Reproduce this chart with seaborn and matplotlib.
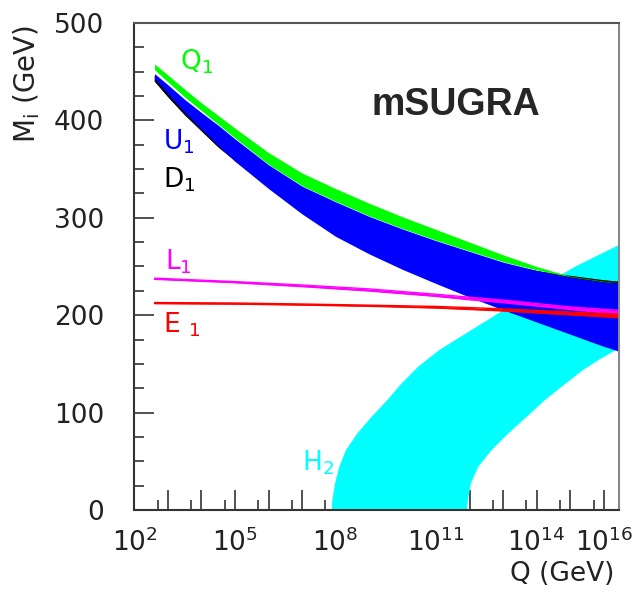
import numpy as np
import pandas as pd
import seaborn as sns
from matplotlib import pyplot as plt
from matplotlib.ticker import FixedLocator, FuncFormatter, MultipleLocator

# log10(Q/GeV) grid for the squark bands
logq = np.array([2.6, 3, 3.5, 4, 4.5, 5, 6, 7, 8, 9, 10, 11, 12, 13, 14, 15, 16, 16.46])

q1_hi = [458, 446.5, 432, 418, 405, 392, 367, 346, 330, 315, 301, 288, 275, 262, 250, 240, 235, 233.5]
q1_lo = [452, 439.5, 424, 410, 396, 382, 355, 333, 317, 302, 289, 277, 266, 255, 246.5, 239.5, 234.5, 233.3]
u1_hi = [448, 436.5, 421.5, 408, 395, 381, 354.5, 332.5, 316.5, 301.5, 288.5, 276.5, 265.5, 254.5, 246, 239, 234, 233]
u1_lo = [443, 427, 408, 391, 374, 358, 330, 304, 281, 263, 247, 232.5, 218.5, 205.5, 193, 180.5, 168, 163]
d1_hi = [446, 434.5, 419.5, 406, 393, 379, 352.5, 330.5, 314.5, 299.5, 286.5, 274.5, 263.5, 252.5, 245.5, 240.5, 236, 234.5]
d1_lo = [440.5, 424.5, 406, 389.5, 373, 359, 332, 306, 283, 265, 249, 234.5, 220.5, 207.5, 195, 182.5, 170, 165]

# sleptons
logq_l = np.array([2.6, 5, 7, 9, 11, 12, 13, 14, 15, 16.46])
l1_hi = [238, 234.5, 231, 227, 221.5, 218.5, 215.5, 212, 208.5, 205]
l1_lo = [237, 233.5, 229.5, 225, 219.5, 216, 213, 209.5, 206, 201]
e1_hi = [213, 212.5, 211.5, 210.3, 209, 207.8, 206.5, 205, 203.3, 201]
e1_lo = [212, 211.5, 210.5, 209.3, 207.5, 206, 204.5, 202.5, 200.5, 197.5]

# Higgs H2 band: left (upper) edge and right (lower) edge
h2_left_q = [7.886, 7.905, 7.985, 8.114, 8.313, 8.652, 9.08, 9.547, 9.975, 10.47,
             11.1, 11.9, 12.7, 13.5, 14.3, 15.15, 16.1, 16.46]
h2_left_m = [0, 10.3, 27.4, 44.5, 61.6, 78.7, 95.8, 112.9, 130, 147.2,
             164.3, 181.4, 198.5, 215.6, 232.7, 249.8, 266, 272]
h2_right_q = [11.92, 11.95, 12.04, 12.26, 12.66, 13.16, 13.71, 14.25, 14.8, 15.4, 15.9, 16.46]
h2_right_m = [0, 10.3, 27.4, 44.5, 61.6, 78.7, 95.8, 112.9, 128, 144, 155, 166]

xticks_shown = [2, 5, 8, 11, 14, 16]

sns.set_style('white')
plt.rcParams['font.family'] = ['DejaVu Sans']
plt.rcParams['mathtext.fontset'] = 'dejavusans'

fig = plt.figure(figsize=(6.41, 5.93), dpi=100)
ax = fig.add_axes([0.2098, 0.14, 0.7559, 0.8212])

Q = 10 ** logq
Ql = 10 ** logq_l

h2_x = 10 ** np.array(h2_left_q + h2_right_q[::-1])
h2_y = h2_left_m + h2_right_m[::-1]
ax.fill(h2_x, h2_y, color='#00ffff', lw=0)

ax.fill_between(Q, d1_lo, d1_hi, color='black', lw=0.6)
ax.fill_between(Q, u1_lo, u1_hi, color='#0000ff', lw=0)
ax.fill_between(Q, q1_lo, q1_hi, color='#00ff00', lw=0)

ax.fill_between(Ql, l1_lo, l1_hi, color='#ff00ff', lw=0)
sns.lineplot(x=Ql, y=l1_lo, color='#ff00ff', lw=1.2, ax=ax)
sns.lineplot(x=Ql, y=l1_hi, color='#ff00ff', lw=1.0, ax=ax)
ax.fill_between(Ql, e1_lo, e1_hi, color='#ff0000', lw=0)
sns.lineplot(x=Ql, y=e1_lo, color='#ff0000', lw=1.2, ax=ax)
sns.lineplot(x=Ql, y=e1_hi, color='#ff0000', lw=1.0, ax=ax)

ax.set_xscale('log')
ax.set_xlim(1e2, 10 ** 16.46)
ax.set_ylim(0, 500)

ax.xaxis.set_major_locator(FixedLocator([10.0 ** k for k in range(2, 17)]))
ax.xaxis.set_minor_locator(FixedLocator([5 * 10.0 ** k for k in range(2, 16)]))
ax.xaxis.set_major_formatter(FuncFormatter(
    lambda v, p: f'$10^{{{round(np.log10(v))}}}$' if round(np.log10(v)) in xticks_shown else ''))
ax.xaxis.set_minor_formatter(FuncFormatter(lambda v, p: ''))
ax.yaxis.set_major_locator(MultipleLocator(100))
ax.yaxis.set_minor_locator(MultipleLocator(25))

ax.tick_params(which='both', direction='in', top=False, right=False,
               bottom=True, left=True, color='#222222', width=1.1,
               labelcolor='#222222', labelsize=19)
ax.tick_params(which='major', length=14.5)
ax.tick_params(which='minor', length=7.5)
ax.tick_params(axis='y', pad=22)
ax.tick_params(axis='x', pad=13)

for side, col in [('left', '#333333'), ('bottom', '#333333'), ('top', '#555555'), ('right', '#888888')]:
    ax.spines[side].set_color(col)
    ax.spines[side].set_linewidth(1.5)

ax.set_ylabel('M$_{\\rm i}$ (GeV)', fontsize=20, color='#222222', loc='top')
ax.yaxis.set_label_coords(-0.19, 0.996)
ax.set_xlabel('Q (GeV)', fontsize=19, color='#222222', loc='right')
ax.xaxis.set_label_coords(0.99, -0.105)

ax.text(10 ** 3.36, 460, 'Q$_1$', color='#00ff00', fontsize=19, ha='left', va='center')
ax.text(10 ** 2.85, 378, 'U$_1$', color='#0000ff', fontsize=19, ha='left', va='center')
ax.text(10 ** 2.85, 339, 'D$_1$', color='black', fontsize=19, ha='left', va='center')
ax.text(10 ** 2.9, 255, 'L$_1$', color='#ff00ff', fontsize=19, ha='left', va='center')
ax.text(10 ** 2.85, 190, 'E $_1$', color='#ff0000', fontsize=19, ha='left', va='center')
ax.text(10 ** 7.0, 49, 'H$_2$', color='#00ffff', fontsize=19, ha='left', va='center')
ax.text(10 ** 11.6, 416, 'mSUGRA', fontsize=27, fontweight='bold',
        family='Liberation Sans', ha='center', va='center')

fig.savefig('out.png', dpi=100)
